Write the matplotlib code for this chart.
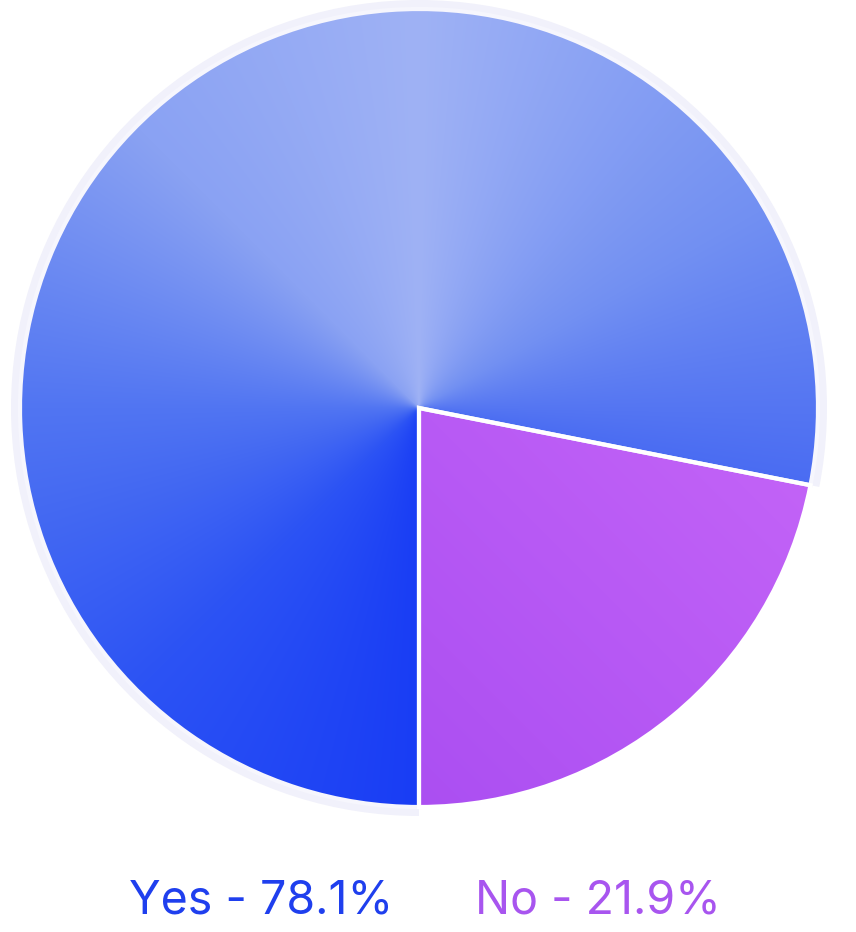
import numpy as np
import matplotlib.pyplot as plt
from matplotlib.patches import Wedge
from matplotlib.colors import LinearSegmentedColormap, to_rgb

labels = ["Yes", "No"]
shares = [78.1, 21.9]
text_colors = ["#1f3fee", "#a855ef"]

plt.rcParams['font.family'] = ['Inter', 'DejaVu Sans']

fig = plt.figure(figsize=(8.56, 9.32), dpi=100)
ax = fig.add_axes([0, 0, 1, 1])

cx, cy, r = 419, 524, 399
wedges, _ = ax.pie(shares, startangle=270, counterclock=False, center=(cx, cy),
                   radius=r, wedgeprops=dict(edgecolor="white", linewidth=3))
ax.set_xlim(0, 856)
ax.set_ylim(0, 932)
ax.set_aspect("equal")
ax.axis("off")

# pale ring behind the Yes slice
yes, no = wedges
ring = Wedge((cx, cy), r + 9, yes.theta1, yes.theta2, facecolor="#f1f1fb", edgecolor="none", zorder=0)
ax.add_patch(ring)

# pixel grid over the pie
n = 820
xs = np.linspace(cx - 410, cx + 410, n)
ys = np.linspace(cy - 410, cy + 410, n)
X, Y = np.meshgrid(xs, ys)
ang = np.degrees(np.arctan2(Y - cy, X - cx))
ang = np.where(ang < yes.theta1, ang + 360, ang)

# conic gradient for Yes
stops_a = [yes.theta1, 30, 90, 135, 180, 225, yes.theta2]
stops_c = ["#4a6cf2", "#7290f2", "#9fb2f5", "#8aa2f3", "#5175f2", "#2c53f4", "#193df5"]
rgb = np.array([to_rgb(c) for c in stops_c])
img = np.zeros((n, n, 3))
for k in range(3):
    img[..., k] = np.interp(ang, stops_a, rgb[:, k])
im = ax.imshow(img, extent=(xs[0], xs[-1], ys[0], ys[-1]), origin="lower", zorder=1, interpolation="bilinear")
im.set_clip_path(yes)

# linear gradient for No
cmap = LinearSegmentedColormap.from_list("no", ["#a84cf1", "#c868f8"])
g = ((X - cx) + (Y - cy)) / (2 * r)
g = (g - g.min()) / (g.max() - g.min())
im2 = ax.imshow(g, cmap=cmap, extent=(xs[0], xs[-1], ys[0], ys[-1]), origin="lower", zorder=1,
                vmin=0.2, vmax=0.8, interpolation="bilinear")
im2.set_clip_path(no)

for w in wedges:
    w.set_facecolor("none")
    w.set_zorder(2)
yes.set_edgecolor("#f6f6fd")

text_x = [261, 598]
for lab, val, col, x in zip(labels, shares, text_colors, text_x):
    ax.text(x, 19, f"{lab} - {val}%", color=col, fontsize=33.5, ha="center", va="baseline")

fig.savefig("out.png", dpi=100)
